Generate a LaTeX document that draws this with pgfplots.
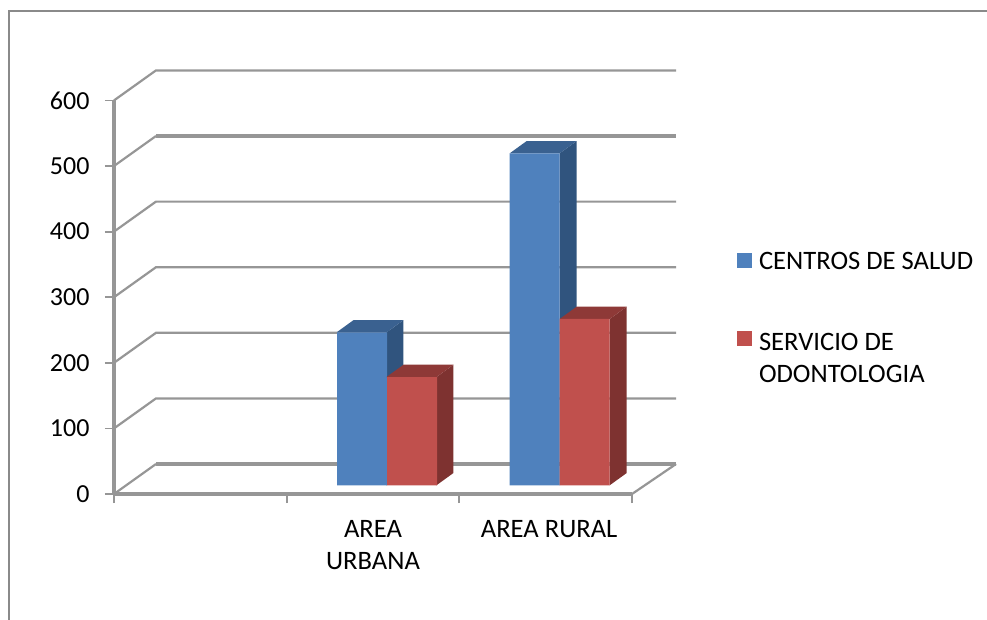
\documentclass[border=0pt]{standalone}
\usepackage{pgfplots}
\pgfplotsset{compat=1.18}
\usepackage{fontspec}
\setmainfont{Carlito}
\definecolor{bF}{HTML}{4F81BD}\definecolor{bS}{HTML}{30547E}\definecolor{bT}{HTML}{3A6190}
\definecolor{rF}{HTML}{C0504D}\definecolor{rS}{HTML}{7E3230}\definecolor{rT}{HTML}{8E3937}
\definecolor{gl}{HTML}{969696}\definecolor{fr}{HTML}{8A8A8A}
\begin{document}
\begin{tikzpicture}[x=1pt,y=1pt]
\path[use as bounding box] (0,0) rectangle (987,619);
\draw[fr,line width=1.7pt] (9,-2) -- (9,608) -- (990,608);
\begin{axis}[
  at={(114pt,125pt)},anchor=origin,scale only axis,anchor=south west,
  width=518pt,height=393.6pt,
  xmin=-0.5,xmax=2.5,ymin=-13.3,ymax=586.7,clip=false,
  axis lines=left,axis line style={-,draw=gl,line width=3.4pt},
  tick align=outside,major tick length=9pt,
  tick style={draw=gl,line width=1.8pt},
  xtick={-0.5,0.5,1.5,2.5},xticklabels={},
  extra x ticks={1,2.02},
  extra x tick labels={{AREA\\URBANA},{AREA RURAL}},
  extra x tick style={major tick length=0pt,tick style={draw=none}},
  x tick label style={align=center,font=\fontsize{26.6}{32}\selectfont,yshift=-23pt},
  ytick={-13.3,86.7,186.7,286.7,386.7,486.7,586.7},
  yticklabels={0,100,200,300,400,500,600},
  y tick label style={font=\fontsize{26}{30}\selectfont,xshift=-12pt},
  legend style={draw=none,fill=none,at={(623pt,243.5pt)},anchor=north west,
    row sep=53pt,inner sep=0pt,outer sep=0pt,cells={anchor=west},
    font=\fontsize{26.6}{32}\selectfont,/tikz/column sep=5pt},
  legend cell align=left,
  legend image code/.code={\fill[#1] (0pt,-6pt) rectangle (15pt,9pt);},
]
% walls and floor
\pgfplotsinvokeforeach{86.7,186.7,286.7,386.7,586.7}{
  \addplot[gl,line width=2.2pt,forget plot] coordinates {(-0.5,#1) (-0.257,#1+45.7) (2.755,#1+45.7)};
}
\addplot[gl,line width=3.4pt,forget plot] coordinates {(-0.257,532.4) (2.755,532.4)};
\addplot[gl,line width=2.2pt,forget plot] coordinates {(-0.5,486.7) (-0.257,532.4)};
\addplot[gl,line width=2.2pt,forget plot] coordinates {(-0.5,-13.3) (-0.257,32.4)};
\addplot[gl,line width=4pt,forget plot] coordinates {(-0.257,32.4) (2.755,32.4)};
\addplot[gl,line width=2.2pt,forget plot] coordinates {(2.5,-13.3) (2.755,32.4)};
% centros de salud: sides and tops
\addplot[fill=bS,draw=none,forget plot] coordinates {(1.078,0) (1.1765,18.75) (1.1765,251.75) (1.078,233)} -- cycle;
\addplot[fill=bT,draw=none,forget plot] coordinates {(0.7886,233) (0.887,251.75) (1.1765,251.75) (1.078,233)} -- cycle;
\addplot[fill=bS,draw=none,forget plot] coordinates {(2.081,0) (2.1795,18.75) (2.1795,524.75) (2.081,506)} -- cycle;
\addplot[fill=bT,draw=none,forget plot] coordinates {(1.7916,506) (1.89,524.75) (2.1795,524.75) (2.081,506)} -- cycle;
% centros de salud: fronts
\addplot[ybar,bar width=50pt,bar shift=-11pt,fill=bF,draw=none] coordinates {(1,233) (2,506)};
\addlegendentry{CENTROS DE SALUD}
% odontologia: sides and tops
\addplot[fill=rS,draw=none,forget plot] coordinates {(1.3675,0) (1.466,18.75) (1.466,183.75) (1.3675,165)} -- cycle;
\addplot[fill=rT,draw=none,forget plot] coordinates {(1.078,165) (1.1765,183.75) (1.466,183.75) (1.3675,165)} -- cycle;
\addplot[fill=rS,draw=none,forget plot] coordinates {(2.371,0) (2.4695,18.75) (2.4695,272.25) (2.371,253.5)} -- cycle;
\addplot[fill=rT,draw=none,forget plot] coordinates {(2.081,253.5) (2.1795,272.25) (2.4695,272.25) (2.371,253.5)} -- cycle;
% odontologia: fronts
\addplot[ybar,bar width=50pt,bar shift=39pt,fill=rF,draw=none] coordinates {(1,165) (2,253.5)};
\addlegendentry{\begin{tabular}[t]{@{}l@{}}SERVICIO DE\\ODONTOLOGIA\end{tabular}}
\end{axis}
\end{tikzpicture}
\end{document}
